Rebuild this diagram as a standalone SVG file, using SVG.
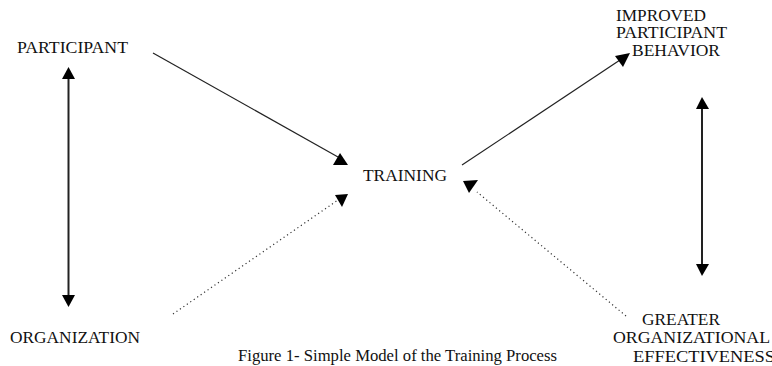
<svg xmlns="http://www.w3.org/2000/svg" width="772" height="366" viewBox="0 0 772 366">
<style>
.t{font-family:"Liberation Serif","Times New Roman",serif;font-size:16px;fill:#111;}
.cap{font-family:"Liberation Serif","Times New Roman",serif;font-size:16px;fill:#111;}
.solid{stroke:#222;stroke-width:1.2;fill:none;}
.vert{stroke:#222;stroke-width:2;fill:none;}
.dot{stroke:#333;stroke-width:1.2;stroke-dasharray:1.2 3;fill:none;}
.head{fill:#000;}
</style>
<rect width="772" height="366" fill="#fff"/>
<g id="participant"><text class="t" x="17" y="53" textLength="111" lengthAdjust="spacingAndGlyphs">PARTICIPANT</text></g>
<g id="organization"><text class="t" x="10" y="343" textLength="130" lengthAdjust="spacingAndGlyphs">ORGANIZATION</text></g>
<g id="training"><text class="t" x="363" y="181" textLength="84" lengthAdjust="spacingAndGlyphs">TRAINING</text></g>
<g id="improved">
<text class="t" x="616" y="21" textLength="90" lengthAdjust="spacingAndGlyphs">IMPROVED</text>
<text class="t" x="616" y="38" textLength="111" lengthAdjust="spacingAndGlyphs">PARTICIPANT</text>
<text class="t" x="632" y="56" textLength="88" lengthAdjust="spacingAndGlyphs">BEHAVIOR</text>
</g>
<g id="greater">
<text class="t" x="642" y="325" textLength="78" lengthAdjust="spacingAndGlyphs">GREATER</text>
<text class="t" x="613" y="343" textLength="157" lengthAdjust="spacingAndGlyphs">ORGANIZATIONAL</text>
<text class="t" x="633" y="362" textLength="142" lengthAdjust="spacingAndGlyphs">EFFECTIVENESS</text>
</g>
<g id="caption"><text class="cap" x="238" y="361" textLength="319" lengthAdjust="spacingAndGlyphs">Figure 1- Simple Model of the Training Process</text></g>
<g id="connectors">
<line class="vert" x1="68.5" y1="78" x2="68.5" y2="296"/>
<polygon class="head" points="68.5,67 62,79 75,79"/>
<polygon class="head" points="68.5,307 62,295 75,295"/>
<line class="vert" x1="702" y1="108" x2="702" y2="265"/>
<polygon class="head" points="702,97 696,109 709,109"/>
<polygon class="head" points="702,276 696,264 709,264"/>
<line class="solid" x1="153" y1="53" x2="338" y2="157"/>
<polygon class="head" points="340,153 333,165 348,165"/>
<line class="dot" x1="173" y1="314" x2="338" y2="200"/>
<polygon class="head" points="335,195 348,194 342,207"/>
<line class="solid" x1="462" y1="165" x2="620" y2="60"/>
<polygon class="head" points="615,56 630,53 623,67"/>
<line class="dot" x1="626" y1="316" x2="477" y2="192"/>
<polygon class="head" points="463,181 478,180 469,193"/>
</g>
</svg>
